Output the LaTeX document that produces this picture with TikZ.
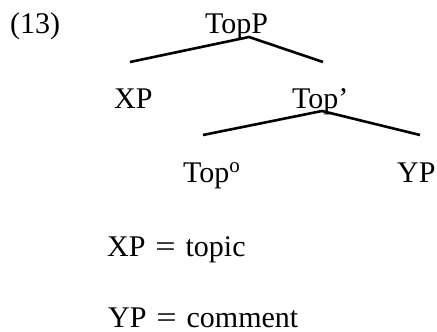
\documentclass[tikz,border=0pt]{standalone}
\usepackage{fontspec}
\setmainfont{Liberation Serif}

\newcommand{\eqsign}{\hspace{0.33em}\scalebox{1.2}[1]{=}\hspace{0.33em}}

\begin{document}
\begin{tikzpicture}[
        x = 1pt, y = -1pt,
        label text/.style = {anchor = base west, inner sep = 0pt,
            font = \fontsize{30}{36}\selectfont},
        branch/.style = {line width = 2.6pt, line join = miter},
    ]
        \useasboundingbox (0, 0) rectangle (437, 332);

        % Example number and the tree labels, placed on their baselines.
        \node[label text] (exnum) at (10, 34)  {(13)};
        \node[label text] (TopP)  at (205, 33) {TopP};
        \node[label text] (XP)    at (114, 108) {XP};
        \node[label text] (TopB)  at (292, 108) {Top'};
        \node[label text] (Top0)  at (183, 182) {Top\textsuperscript{o}};
        \node[label text] (YP)    at (397, 182) {YP};

        % Branch points between the levels.
        \coordinate (TopP-root) at (249, 37);
        \coordinate (XP-top)    at (130, 62);
        \coordinate (TopB-top)  at (323, 62);
        \coordinate (TopB-root) at (322, 111);
        \coordinate (Top0-top)  at (203, 135);
        \coordinate (YP-top)    at (420, 135);

        \draw[branch] (XP-top) -- (TopP-root) -- (TopB-top);
        \draw[branch] (Top0-top) -- (TopB-root) -- (YP-top);

        % Key below the tree.
        \node[label text] (keyXP) at (107, 256) {XP\eqsign topic};
        \node[label text] (keyYP) at (108, 327) {YP\eqsign comment};
    \end{tikzpicture}
\end{document}
